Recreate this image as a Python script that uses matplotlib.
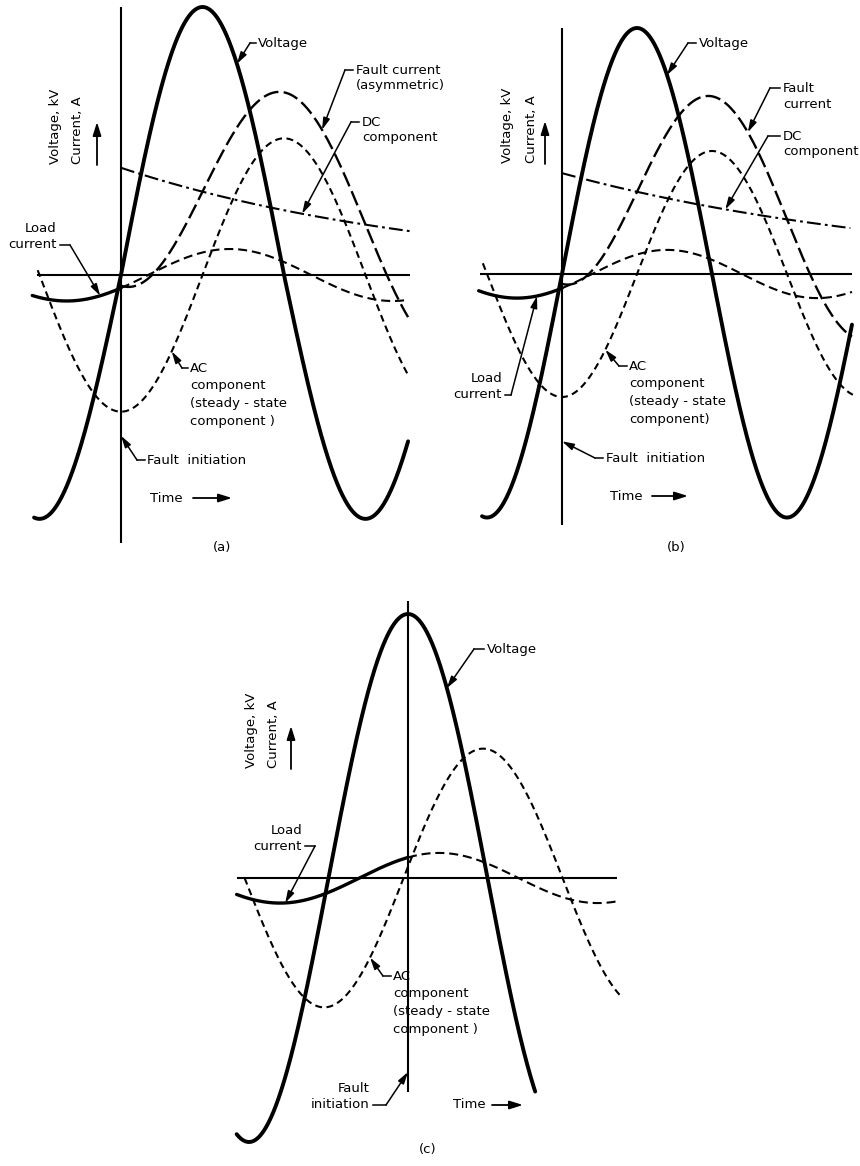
import numpy as np
import matplotlib
matplotlib.use("Agg")
import matplotlib.pyplot as plt

plt.rcParams['font.family'] = ['DejaVu Sans']
plt.rcParams['lines.scale_dashes'] = False

# ---------------- data: electrical degrees after fault initiation, values in % of voltage peak
panel_labels = ["(a)", "(b)", "(c)"]
voltage_amp_pos = [100, 100, 100]
voltage_amp_neg = [91, 99, 100]
voltage_phase = [0, 0, 90]
ac_amp = [51, 50, 49]
ac_phase = [-90, -90, 5]
load_amp = [9.7, 9.8, 9.5]
load_phase = [-30, -36, 55]
dc_start = [40, 41, 0]
dc_tau = [357, 440, 1]
fault_ac_amp = [44, 45, 0]
voltage_span = [(-96, 317), (-96, 348), (-194, 144)]
ac_span = [(-92, 318), (-95, 349), (-185, 242)]
load_span = [(-98, 317), (-100, 348), (-194, 240)]
dc_span = [(0, 319), (0, 346), None]
fault_span = [(0, 317), (0, 348), None]
zero_span = [(-93, 319), (-98, 348), (-194, 237)]
vline_span = [(-100, 100), (-102, 100), (-81, 105)]

# ---------------- layout (pixels of the 860x1166 canvas)
W, H = 860, 1166
origin_px = [(121, 275), (562, 274), (408, 878)]
px_per_deg = [0.9056, 0.8333, 0.8833]
px_per_unit = [2.68, 2.46, 2.64]

FS = 9.5
LW_V = 2.8
LW_D = 1.5

fig = plt.figure(figsize=(W / 100, H / 100), dpi=100)
fig.patch.set_facecolor('white')
lay = fig.add_axes([0, 0, 1, 1])
lay.set_xlim(0, W)
lay.set_ylim(H, 0)
lay.axis('off')


def rad(t):
    return np.radians(t)


def voltage(i, t):
    s = np.sin(rad(np.asarray(t, dtype=float) + voltage_phase[i]))
    return np.where(s >= 0, voltage_amp_pos[i] * s, voltage_amp_neg[i] * s)


def ac(i, t):
    return ac_amp[i] * np.sin(rad(t + ac_phase[i]))


def load(i, t):
    return load_amp[i] * np.sin(rad(t + load_phase[i]))


def dc(i, t):
    return dc_start[i] * np.exp(-np.asarray(t, dtype=float) / dc_tau[i])


def fault(i, t):
    return fault_ac_amp[i] * np.sin(rad(t + ac_phase[i])) + dc(i, t)


axes = []
for i in range(3):
    ax = fig.add_axes([0, 0, 1, 1])
    ax.set_facecolor('none')
    ax.axis('off')
    axes.append(ax)
    # zero line and fault initiation line
    ax.plot(zero_span[i], [0, 0], color='k', lw=1.5, solid_capstyle='butt')
    ax.plot([0, 0], vline_span[i], color='k', lw=1.5, solid_capstyle='butt')
    # voltage
    t = np.linspace(*voltage_span[i], 600)
    ax.plot(t, voltage(i, t), color='k', lw=LW_V, solid_capstyle='round')
    # AC component
    t = np.linspace(*ac_span[i], 600)
    ax.plot(t, ac(i, t), color='k', lw=LW_D, dashes=(5, 3.2), dash_capstyle='butt')
    # load current: solid before fault, dashed after
    t = np.linspace(load_span[i][0], 0, 200)
    ax.plot(t, load(i, t), color='k', lw=2.4, solid_capstyle='round')
    t = np.linspace(0, load_span[i][1], 400)
    ax.plot(t, load(i, t), color='k', lw=LW_D, dashes=(6.5, 3.5), dash_capstyle='butt')
    if dc_span[i] is not None:
        t = np.linspace(*dc_span[i], 400)
        ax.plot(t, dc(i, t), color='k', lw=LW_D, dashes=(10, 3, 2, 3), dash_capstyle='butt')
        t = np.linspace(*fault_span[i], 600)
        ax.plot(t, fault(i, t), color='k', lw=1.7, dashes=(11, 3.8), dash_capstyle='butt')
    ox, oy = origin_px[i]
    ax.set_xlim(-ox / px_per_deg[i], (W - ox) / px_per_deg[i])
    ax.set_ylim((oy - H) / px_per_unit[i], oy / px_per_unit[i])

curve_fn = {'voltage': voltage, 'ac': ac, 'load': load, 'dc': dc, 'fault': fault}

ARROW = dict(arrowstyle='-|>,head_length=0.7,head_width=0.2', color='k', lw=1.1,
             shrinkA=0, shrinkB=0, mutation_scale=10)


def leader(i, curve, tip_t, bend, start, tip_val=None):
    if tip_val is None:
        tip_val = float(curve_fn[curve](i, tip_t))
    lay.plot([start[0], bend[0]], [start[1], bend[1]], color='k', lw=1.1)
    lay.annotate('', xy=(tip_t, tip_val), xycoords=axes[i].transData,
                 xytext=bend, textcoords=lay.transData, arrowprops=ARROW)


def txt(x, y, s, ha='left', **kw):
    lay.text(x, y, s, ha=ha, va='center', fontsize=FS, color='k', **kw)


def time_arrow(x0, x1, y):
    lay.annotate('', xy=(x1, y), xytext=(x0, y),
                 arrowprops=dict(arrowstyle='-|>,head_length=0.8,head_width=0.25',
                                 color='k', lw=1.3, shrinkA=0, shrinkB=0, mutation_scale=10))


def axis_label(xv, xc, xa, ybot):
    lay.text(xv, ybot, "Voltage, kV", rotation=90, ha='center', va='bottom', fontsize=FS)
    lay.text(xc, ybot, "Current, A", rotation=90, ha='center', va='bottom', fontsize=FS)
    lay.annotate('', xy=(xa, ybot - 42), xytext=(xa, ybot + 1),
                 arrowprops=dict(arrowstyle='-|>,head_length=0.8,head_width=0.25',
                                 color='k', lw=1.3, shrinkA=0, shrinkB=0, mutation_scale=10))


# ---------------- panel (a)
txt(258, 43, "Voltage")
leader(0, 'voltage', 128, (250, 43), (256, 43))
txt(356, 70, "Fault current")
txt(356, 86, "(asymmetric)")
leader(0, 'fault', 222, (345, 70), (353, 70))
txt(362, 122, "DC")
txt(362, 138, "component")
leader(0, 'dc', 200, (351, 122), (359, 122))
txt(57, 228, "Load", ha='right')
txt(57, 245, "current", ha='right')
leader(0, 'load', -23, (70, 245), (60, 245))
txt(190, 368, "AC")
txt(190, 386, "component")
txt(190, 404, "(steady - state")
txt(190, 422, "component )")
leader(0, 'ac', 56, (182, 368), (188, 368))
txt(147, 460, "Fault  initiation")
leader(0, None, 0, (137, 460), (145, 460), tip_val=-60)
txt(150, 498, "Time")
time_arrow(193, 232, 498)
txt(222, 548, panel_labels[0], ha='center')
axis_label(56, 77, 97, 164)

# ---------------- panel (b)
txt(699, 43, "Voltage")
leader(1, 'voltage', 126, (688, 43), (696, 43))
txt(783, 88, "Fault")
txt(783, 105, "current")
leader(1, 'fault', 223, (770, 88), (780, 88))
txt(783, 136, "DC")
txt(783, 152, "component")
leader(1, 'dc', 196, (768, 136), (780, 136))
txt(502, 378, "Load", ha='right')
txt(502, 395, "current", ha='right')
leader(1, 'load', -30, (511, 395), (505, 395))
txt(629, 366, "AC")
txt(629, 384, "component")
txt(629, 402, "(steady - state")
txt(629, 420, "component)")
leader(1, 'ac', 52, (619, 366), (627, 366))
txt(606, 458, "Fault  initiation")
leader(1, None, 0, (595, 458), (603, 458), tip_val=-68)
txt(610, 496, "Time")
time_arrow(652, 688, 496)
txt(676, 548, panel_labels[1], ha='center')
axis_label(507, 531, 545, 163)

# ---------------- panel (c)
txt(487, 649, "Voltage")
leader(2, 'voltage', 44, (474, 649), (484, 649))
txt(302, 830, "Load", ha='right')
txt(302, 846, "current", ha='right')
leader(2, 'load', -139, (315, 846), (305, 846))
txt(393, 976, "AC")
txt(393, 994, "component")
txt(393, 1012, "(steady - state")
txt(393, 1030, "component )")
leader(2, 'ac', -43, (383, 976), (391, 976))
txt(370, 1088, "Fault", ha='right')
txt(370, 1105, "initiation", ha='right')
leader(2, None, 0, (386, 1105), (373, 1105), tip_val=-73.5)
txt(453, 1105, "Time")
time_arrow(492, 523, 1105)
txt(428, 1150, panel_labels[2], ha='center')
axis_label(252, 273, 291, 768)

fig.savefig("out.png", dpi=100, facecolor='white')
